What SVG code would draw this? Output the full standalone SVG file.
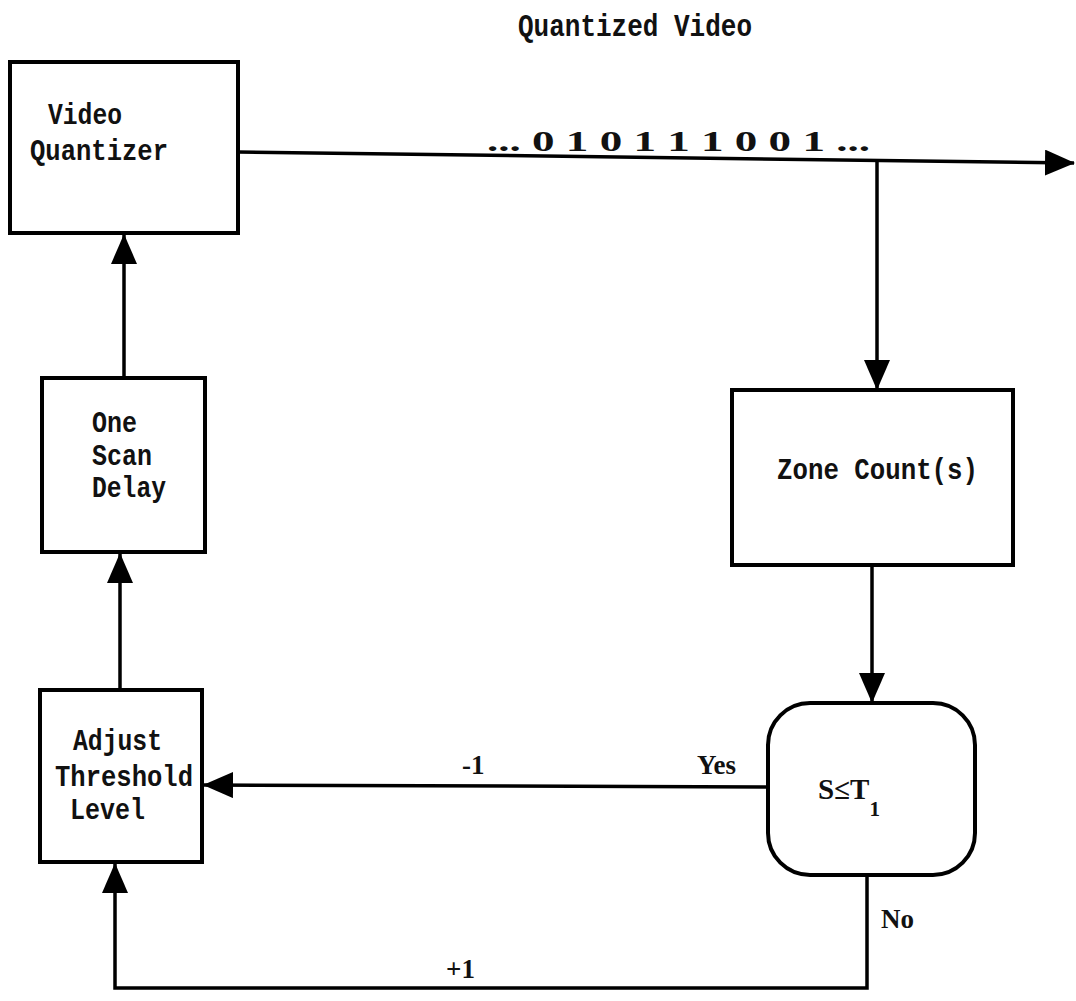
<svg xmlns="http://www.w3.org/2000/svg" width="1076" height="1001" viewBox="0 0 1076 1001">
<style>
.box{fill:#fff;stroke:#000;stroke-width:4}
.ln{fill:none;stroke:#000;stroke-width:3.5}
.mono{font-family:"Liberation Mono","DejaVu Sans Mono",monospace;font-weight:bold;font-size:29px;fill:#111}
.serif{font-family:"Liberation Serif","DejaVu Serif",serif;font-weight:bold;fill:#111}
</style>
<defs>
<marker id="ah" markerUnits="userSpaceOnUse" markerWidth="32" markerHeight="28" refX="29" refY="13" orient="auto">
<path d="M0,0 L30,13 L0,26 z" fill="#000"/>
</marker>
</defs>
<rect width="1076" height="1001" fill="#fff"/>
<text class="mono" x="518" y="36" style="font-size:31px" textLength="234" lengthAdjust="spacingAndGlyphs">Quantized Video</text>
<g id="connectors">
<path class="ln" d="M238,152 L1074,163" marker-end="url(#ah)"/>
<path class="ln" d="M877,162 L877,389" marker-end="url(#ah)"/>
<path class="ln" d="M872,565 L872,702" marker-end="url(#ah)"/>
<path class="ln" d="M768,787 L204,785" marker-end="url(#ah)"/>
<path class="ln" d="M867,875 V988 H115 V864" marker-end="url(#ah)"/>
<path class="ln" d="M120,690 V554" marker-end="url(#ah)"/>
<path class="ln" d="M124,378 V235" marker-end="url(#ah)"/>
<text class="serif" x="487" y="151" font-size="29" textLength="383" lengthAdjust="spacingAndGlyphs">... 0 1 0 1 1 1 0 0 1 ...</text>
<text class="serif" x="462" y="774" font-size="27">-1</text>
<text class="serif" x="697" y="774" font-size="27">Yes</text>
<text class="serif" x="881" y="928" font-size="27">No</text>
<text class="serif" x="446" y="978" font-size="27">+1</text>
</g>
<g id="video-quantizer">
<rect class="box" x="10" y="62" width="228" height="171"/>
<text class="mono" x="48" y="124" textLength="74" lengthAdjust="spacingAndGlyphs">Video</text>
<text class="mono" x="30" y="160" textLength="138" lengthAdjust="spacingAndGlyphs">Quantizer</text>
</g>
<g id="one-scan-delay">
<rect class="box" x="42" y="378" width="163" height="174"/>
<text class="mono" x="92" y="432" textLength="45" lengthAdjust="spacingAndGlyphs">One</text>
<text class="mono" x="92" y="465" textLength="60" lengthAdjust="spacingAndGlyphs">Scan</text>
<text class="mono" x="92" y="497" textLength="74" lengthAdjust="spacingAndGlyphs">Delay</text>
</g>
<g id="adjust-threshold">
<rect class="box" x="40" y="690" width="162" height="172"/>
<text class="mono" x="73" y="750" textLength="89" lengthAdjust="spacingAndGlyphs">Adjust</text>
<text class="mono" x="55" y="786" textLength="138" lengthAdjust="spacingAndGlyphs">Threshold</text>
<text class="mono" x="70" y="819" textLength="75" lengthAdjust="spacingAndGlyphs">Level</text>
</g>
<g id="zone-count">
<rect class="box" x="732" y="390" width="281" height="175"/>
<text class="mono" x="777" y="479" textLength="201" lengthAdjust="spacingAndGlyphs">Zone Count(s)</text>
</g>
<g id="decision">
<rect class="box" x="768" y="703" width="207" height="172" rx="42" ry="42"/>
<text class="serif" x="818" y="799" font-size="29">S≤T<tspan font-size="21" dy="17">1</tspan></text>
</g>
</svg>
